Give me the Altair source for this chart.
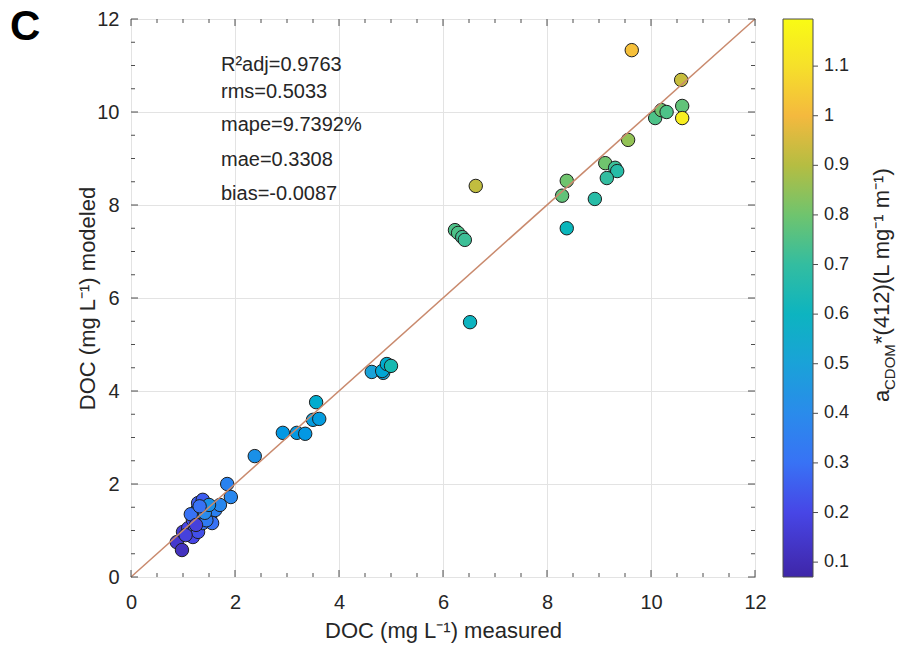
import altair as alt
import pandas as pd

# ---- data ----
doc_measured = [0.88, 0.98, 1.00, 1.10, 1.19, 1.19, 1.23, 1.29, 1.38, 1.37, 1.52, 1.46, 1.27, 1.29,
                1.38, 1.62, 1.71, 1.56, 1.85, 1.92, 1.33, 1.45, 1.15, 1.25, 1.42, 1.05, 1.50, 1.32,
                2.38, 2.92, 3.19, 3.35, 3.50, 3.62, 3.56, 4.63, 4.85, 4.83, 4.92, 5.00,
                6.52, 6.23, 6.29, 6.37, 6.42, 6.63, 8.29, 8.38, 8.38, 8.92, 9.12, 9.31, 9.35,
                9.15, 9.56, 9.63, 10.08, 10.20, 10.30, 10.60, 10.58, 10.60]
doc_modeled = [0.75, 0.58, 0.97, 1.05, 0.86, 1.23, 1.05, 0.97, 1.16, 1.29, 1.29, 1.48, 1.44, 1.59,
               1.66, 1.44, 1.55, 1.16, 2.00, 1.72, 1.40, 1.22, 1.35, 1.12, 1.38, 0.90, 1.55, 1.52,
               2.60, 3.10, 3.10, 3.08, 3.38, 3.40, 3.76, 4.41, 4.39, 4.43, 4.58, 4.54,
               5.48, 7.46, 7.40, 7.31, 7.25, 8.41, 8.20, 8.52, 7.50, 8.13, 8.90, 8.80, 8.73,
               8.58, 9.40, 11.33, 9.87, 10.04, 10.00, 10.13, 10.69, 9.87]
a_cdom = [0.15, 0.12, 0.16, 0.20, 0.20, 0.22, 0.25, 0.22, 0.30, 0.28, 0.35, 0.32, 0.38, 0.25,
          0.25, 0.35, 0.38, 0.30, 0.36, 0.38, 0.40, 0.33, 0.30, 0.18, 0.40, 0.18, 0.42, 0.30,
          0.42, 0.45, 0.45, 0.45, 0.47, 0.47, 0.55, 0.50, 0.50, 0.52, 0.55, 0.65,
          0.60, 0.75, 0.75, 0.73, 0.72, 0.92, 0.78, 0.80, 0.62, 0.68, 0.80, 0.72, 0.68,
          0.70, 0.85, 1.02, 0.75, 0.80, 0.75, 0.78, 0.93, 1.15]

one_to_one = [0, 12]
axis_ticks = [0, 2, 4, 6, 8, 10, 12]
minor_ticks = [0.5, 1, 1.5, 2.5, 3, 3.5, 4.5, 5, 5.5, 6.5, 7, 7.5, 8.5, 9, 9.5, 10.5, 11, 11.5]
cbar_ticks = [0.1, 0.2, 0.3, 0.4, 0.5, 0.6, 0.7, 0.8, 0.9, 1.0, 1.1]
cmap_values = [0.07, 0.2, 0.3, 0.4, 0.5, 0.6, 0.7, 0.8, 0.9, 1.0, 1.1, 1.195]
cmap_colors = ["#3e26a8", "#4746e6", "#3872f5", "#2a8beb", "#1aa2d8", "#0db4c0",
               "#33bda0", "#6fc46e", "#b5bd42", "#f4b93e", "#f6e02a", "#f9fb14"]

stats = ["R²adj=0.9763", "rms=0.5033", "mape=9.7392%", "mae=0.3308", "bias=-0.0087"]

W, H = 624, 558
FONT = "Liberation Sans"
TXT = "#262626"
FRAME = "#4d4d4d"
CB_X = 652
CB_W = 30

df = pd.DataFrame({"measured": doc_measured, "modeled": doc_modeled, "a": a_cdom})
line_df = pd.DataFrame({"x": one_to_one, "y": one_to_one})
major_df = pd.DataFrame({"t": axis_ticks})
minor_df = pd.DataFrame({"t": minor_ticks})
cbt_df = pd.DataFrame({"v": cbar_ticks})

xs = alt.Scale(domain=[0, 12], nice=False, zero=False)
ys = alt.Scale(domain=[0, 12], nice=False, zero=False)

x_axis = alt.Axis(values=axis_ticks, title="DOC (mg L⁻¹) measured", grid=True, gridColor="#e3e3e3",
                  ticks=False, domain=False, labelFont=FONT, labelFontSize=20, labelColor=TXT,
                  labelPadding=15, labelFlush=False, titleFont=FONT, titleFontSize=22,
                  titleFontWeight="normal", titleColor=TXT, titlePadding=8, format="d")
y_axis = alt.Axis(values=axis_ticks, title="DOC (mg L⁻¹) modeled", grid=True, gridColor="#e3e3e3",
                  ticks=False, domain=False, labelFont=FONT, labelFontSize=20, labelColor=TXT,
                  labelPadding=12, labelFlush=False, titleFont=FONT, titleFontSize=22,
                  titleFontWeight="normal", titleColor=TXT, titlePadding=-3, format="d")

points = alt.Chart(df).mark_circle(size=180, opacity=1, stroke="#1e1e1e", strokeWidth=1).encode(
    x=alt.X("measured:Q", scale=xs, axis=x_axis),
    y=alt.Y("modeled:Q", scale=ys, axis=y_axis),
    color=alt.Color("a:Q", scale=alt.Scale(domain=cmap_values, range=cmap_colors),
                    legend=alt.Legend(orient="none", legendX=CB_X, legendY=0, direction="vertical",
                                      gradientLength=H, gradientThickness=CB_W, title=None,
                                      values=cbar_ticks, format="~g", labelFont=FONT,
                                      labelFontSize=18, labelColor=TXT, labelOffset=11,
                                      labelOverlap=False, gradientStrokeColor=FRAME,
                                      gradientStrokeWidth=1)),
)

line = alt.Chart(line_df).mark_line(color="#c98a6e", strokeWidth=1.5).encode(
    x=alt.X("x:Q", scale=xs), y=alt.Y("y:Q", scale=ys))

def tick_layers(data, length):
    base = alt.Chart(data)
    return [
        base.mark_rule(color=FRAME, strokeWidth=1).encode(x=alt.X("t:Q", scale=xs), y=alt.value(H), y2=alt.value(H - length)),
        base.mark_rule(color=FRAME, strokeWidth=1).encode(x=alt.X("t:Q", scale=xs), y=alt.value(0), y2=alt.value(length)),
        base.mark_rule(color=FRAME, strokeWidth=1).encode(y=alt.Y("t:Q", scale=ys), x=alt.value(0), x2=alt.value(length)),
        base.mark_rule(color=FRAME, strokeWidth=1).encode(y=alt.Y("t:Q", scale=ys), x=alt.value(W), x2=alt.value(W - length)),
    ]

ticks = tick_layers(major_df, 7) + tick_layers(minor_df, 4)

stat_df = pd.DataFrame({"s": stats, "yy": [46, 73, 106, 141, 175]})
stat_text = alt.Chart(stat_df).mark_text(align="left", baseline="middle", font=FONT, fontSize=20,
                                         color=TXT).encode(
    x=alt.value(90), y=alt.Y("yy:Q", scale=None), text="s:N")

panel = alt.Chart(pd.DataFrame({"s": ["C"]})).mark_text(
    align="left", baseline="middle", font=FONT, fontSize=42, fontWeight="bold", color="#000").encode(
    x=alt.value(-121), y=alt.value(8), text="s:N")

# colorbar title pieces, rotated (reads bottom to top)
Y0 = 402
cb_a = alt.Chart(pd.DataFrame({"s": ["a"]})).mark_text(
    align="left", baseline="middle", angle=270, font=FONT, fontSize=22, color=TXT).encode(
    x=alt.value(751), y=alt.value(Y0 - 19), text="s:N")
cb_sub = alt.Chart(pd.DataFrame({"s": ["CDOM"]})).mark_text(
    align="left", baseline="middle", angle=270, font=FONT, fontSize=15, color=TXT).encode(
    x=alt.value(759), y=alt.value(Y0 - 19 - 12), text="s:N")
cb_rest = alt.Chart(pd.DataFrame({"s": ["*(412)(L mg⁻¹ m⁻¹)"]})).mark_text(
    align="left", baseline="middle", angle=270, font=FONT, fontSize=22, color=TXT).encode(
    x=alt.value(751), y=alt.value(Y0 - 19 - 12 - 46), text="s:N")

main = alt.layer(points, line, *ticks, stat_text, panel, cb_a, cb_sub, cb_rest)

# colorbar tick marks on their own scale matching the colour domain
cb_tick = alt.Chart(cbt_df).mark_rule(color=FRAME, strokeWidth=1).encode(
    y=alt.Y("v:Q", scale=alt.Scale(domain=[cmap_values[0], cmap_values[-1]], nice=False, zero=False),
            axis=None),
    x=alt.value(CB_X + CB_W), x2=alt.value(CB_X + CB_W + 5))

chart = alt.layer(main, cb_tick).resolve_scale(y="independent").properties(
    width=W, height=H,
    autosize=alt.AutoSizeParams(type="none"),
    padding={"left": 131, "top": 19, "right": 145, "bottom": 75},
    background="white",
).configure_view(stroke=FRAME, strokeWidth=1)

chart.save("out.html", embed_options={"renderer": "svg", "actions": False})
